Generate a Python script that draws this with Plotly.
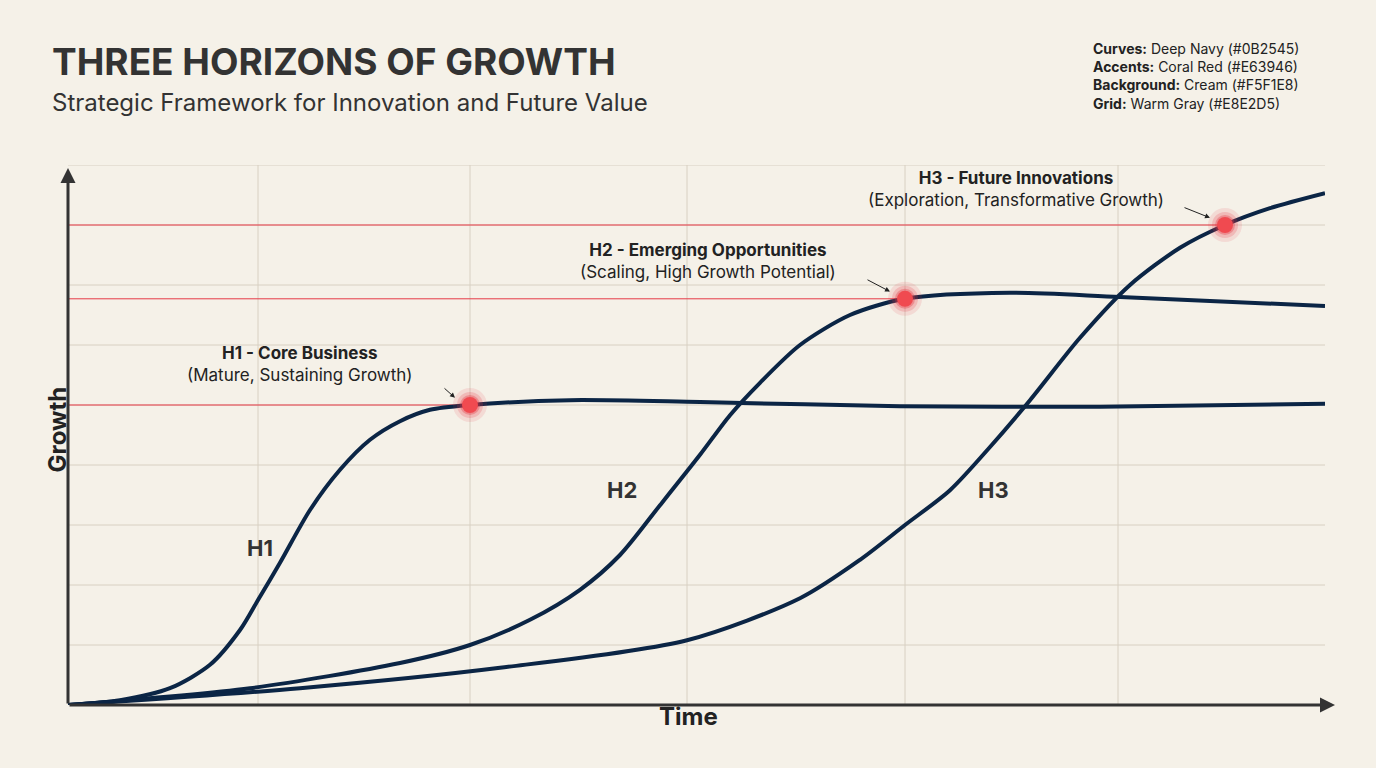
import plotly.graph_objects as go

W, H = 1376, 768
NAVY = "#0B2545"; RED = "#E63946"; BG = "#F5F1E8"; GRID = "#D8D0C2"

x_h1 = [0,0.52,1.02,1.42,1.72,1.9,2.12,2.42,2.72,3.02,3.32,3.62,4.02,5.02,6.32,8.32,10.32,12.57]
y_h1 = [0,0.08,0.28,0.67,1.25,1.75,2.37,3.25,3.92,4.42,4.73,4.92,5.0,5.08,5.05,4.98,4.97,5.02]
x_h2 = [0,1.82,3.32,4.02,4.62,5.12,5.52,5.92,6.32,6.62,6.92,7.32,7.82,8.37,9.42,10.52,12.57]
y_h2 = [0,0.28,0.7,1.0,1.42,1.92,2.5,3.33,4.17,4.83,5.37,6.0,6.5,6.77,6.87,6.8,6.65]
x_h3 = [0,2.32,4.32,6.19,7.32,7.92,8.37,8.82,9.22,9.62,10.12,10.62,11.12,11.57,12.02,12.57]
y_h3 = [0,0.28,0.62,1.08,1.78,2.42,3.0,3.58,4.3,5.08,6.12,7.0,7.62,8.0,8.28,8.53]
dot_x = [4.02, 8.37, 11.57]
dot_y = [5.0, 6.77, 8.0]
vgrid = [1.9, 4.02, 6.19, 8.37, 10.5]
hgrid = [1,2,3,4,5,6,7,8,9]
XMAX, YMAX = 12.57, 9

fig = go.Figure()
for xs, ys in [(x_h1,y_h1),(x_h2,y_h2),(x_h3,y_h3)]:
    fig.add_trace(go.Scatter(x=xs, y=ys, mode="lines", line=dict(color=NAVY, width=4, shape="spline", smoothing=0.8), hoverinfo="skip"))
for sz, op in [(34,0.12),(26,0.2),(20,0.35)]:
    fig.add_trace(go.Scatter(x=dot_x, y=dot_y, mode="markers", marker=dict(size=sz, color=RED, opacity=op), hoverinfo="skip"))
fig.add_trace(go.Scatter(x=dot_x, y=dot_y, mode="markers", marker=dict(size=16, color="#F04A50"), hoverinfo="skip"))

shapes = []
for v in vgrid:
    shapes.append(dict(type="line", xref="x", yref="y", x0=v, x1=v, y0=0, y1=YMAX, line=dict(color=GRID, width=1), layer="below"))
for h in hgrid:
    shapes.append(dict(type="line", xref="x", yref="y", x0=0, x1=XMAX, y0=h, y1=h, line=dict(color=GRID, width=1), layer="below"))
for dx, dy in zip(dot_x, dot_y):
    shapes.append(dict(type="line", xref="x", yref="y", x0=0, x1=dx, y0=dy, y1=dy, line=dict(color=RED, width=1), layer="below"))

ann = []
ann.append(dict(x=XMAX+0.1, y=0, ax=0, ay=0, xref="x", yref="y", axref="x", ayref="y", text="", showarrow=True, arrowhead=2, arrowsize=1, arrowwidth=3, arrowcolor="#333"))
ann.append(dict(x=0, y=YMAX-0.05, ax=0, ay=0, xref="x", yref="y", axref="x", ayref="y", text="", showarrow=True, arrowhead=2, arrowsize=1, arrowwidth=3, arrowcolor="#333"))
for t, x, y in [("H1",1.92,2.62),("H2",5.54,3.58),("H3",9.25,3.58)]:
    ann.append(dict(x=x, y=y, xref="x", yref="y", text="<b>%s</b>" % t, showarrow=False, font=dict(size=22, color="#333", family="Inter")))
callouts = [
    ("H1 - Core Business", "(Mature, Sustaining Growth)", 2.32, 5.68, 3.75, 5.3),
    ("H2 - Emerging Opportunities", "(Scaling, High Growth Potential)", 6.4, 7.4, 7.98, 7.1),
    ("H3 - Future Innovations", "(Exploration, Transformative Growth)", 9.48, 8.6, 11.15, 8.3),
]
for t1, t2, x, y, axx, ayy in callouts:
    ann.append(dict(x=x, y=y, xref="x", yref="y", text="<b>%s</b><br>%s" % (t1, t2), showarrow=False, align="center",
                    font=dict(size=17, color="#222", family="Inter")))
for (t1, t2, x, y, axx, ayy), dx, dy in zip(callouts, dot_x, dot_y):
    ann.append(dict(x=dx-0.15, y=dy+0.12, ax=axx, ay=ayy, xref="x", yref="y", axref="x", ayref="y", text="", showarrow=True, arrowhead=2, arrowsize=1, arrowwidth=1, arrowcolor="#222"))
ann.append(dict(x=50/W, y=1-62/H, xref="paper", yref="paper", xanchor="left", yanchor="middle", showarrow=False, text="<b>THREE HORIZONS OF GROWTH</b>", font=dict(size=37, color="#333", family="Inter")))
ann.append(dict(x=50/W, y=1-102/H, xref="paper", yref="paper", xanchor="left", yanchor="middle", showarrow=False, text="Strategic Framework for Innovation and Future Value", font=dict(size=24, color="#333", family="Inter")))
leg = ["<b>Curves:</b> Deep Navy (#0B2545)", "<b>Accents:</b> Coral Red (#E63946)", "<b>Background:</b> Cream (#F5F1E8)", "<b>Grid:</b> Warm Gray (#E8E2D5)"]
ann.append(dict(x=1091/W, y=1-38/H, xref="paper", yref="paper", xanchor="left", yanchor="top", align="left", showarrow=False, text="<br>".join(leg), font=dict(size=14, color="#222", family="Inter")))
ann.append(dict(x=688/W, y=1-733/H, xref="paper", yref="paper", showarrow=False, text="<b>Time</b>", font=dict(size=24, color="#222", family="Inter")))
ann.append(dict(x=40/W, y=1-430/H, xref="paper", yref="paper", showarrow=False, textangle=-90, text="<b>Growth</b>", font=dict(size=24, color="#222", family="Inter")))

fig.update_layout(width=W, height=H, margin=dict(l=0, r=0, t=0, b=0), paper_bgcolor=BG, plot_bgcolor=BG,
                  showlegend=False, shapes=shapes, annotations=ann,
                  xaxis=dict(domain=[68/W, 1325/W], range=[0, XMAX], visible=False, fixedrange=True),
                  yaxis=dict(domain=[63/H, 603/H], range=[0, YMAX], visible=False, fixedrange=True))
fig.write_html("out.html", config={"displayModeBar": False})
with open("out.html", encoding="utf-8") as f:
    html = f.read()
html = html.replace("<head>", "<head><style>html,body{margin:0;padding:0;background:%s;overflow:hidden}</style>" % BG, 1)
with open("out.html", "w", encoding="utf-8") as f:
    f.write(html)
